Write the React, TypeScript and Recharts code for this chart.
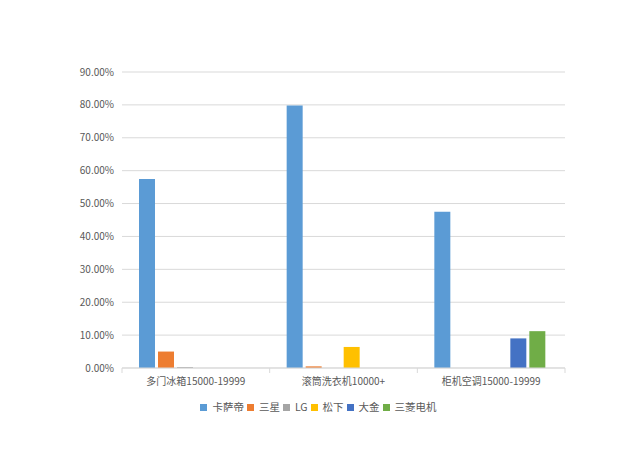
import React from 'react';
import { BarChart, Bar, XAxis, YAxis, CartesianGrid } from 'recharts';

const categories = ['多门冰箱15000-19999', '滚筒洗衣机10000+', '柜机空调15000-19999'];
const casarte = [57.5, 79.8, 47.5];
const samsung = [5.0, 0.5, 0];
const lg = [0.3, 0, 0];
const panasonic = [0, 6.4, 0];
const daikin = [0, 0, 9.0];
const mitsubishi = [0, 0, 11.2];
const yTicks = [0, 10, 20, 30, 40, 50, 60, 70, 80, 90];

const series = [
  { key: '卡萨帝', values: casarte, color: '#5B9BD5' },
  { key: '三星', values: samsung, color: '#ED7D31' },
  { key: 'LG', values: lg, color: '#A5A5A5' },
  { key: '松下', values: panasonic, color: '#FFC000' },
  { key: '大金', values: daikin, color: '#4472C4' },
  { key: '三菱电机', values: mitsubishi, color: '#70AD47' },
];

const data = categories.map((name, i) => {
  const row: Record<string, string | number> = { name };
  series.forEach((s) => {
    row[s.key] = s.values[i];
  });
  return row;
});

const FONT = '"Noto Sans CJK SC", "Noto Sans", sans-serif';
const TEXT = '#595959';
const AXIS = '#D9D9D9';

// ticks sit on category boundaries, like Excel
const CategoryTick = (props: any) => {
  const { x, y, payload, index, visibleTicksCount } = props;
  const band = 443 / categories.length;
  const top = y - 8;
  return (
    <g>
      <line x1={x - band / 2} y1={top} x2={x - band / 2} y2={top + 5} stroke={AXIS} />
      {index === visibleTicksCount - 1 && (
        <line x1={x + band / 2} y1={top} x2={x + band / 2} y2={top + 5} stroke={AXIS} />
      )}
      <text x={x} y={y + 9} textAnchor="middle" fontSize={10} fill={TEXT} fontFamily={FONT}>
        {payload.value}
      </text>
    </g>
  );
};

export default function App() {
  return (
    <div style={{ position: 'absolute', left: 0, top: 0, width: 640, height: 450, background: '#fff' }}>
      <BarChart
        width={640}
        height={450}
        data={data}
        margin={{ top: 72, right: 75, left: 62, bottom: 52 }}
        barCategoryGap={17}
        barGap={3}
      >
        <CartesianGrid vertical={false} stroke={AXIS} />
        <XAxis
          dataKey="name"
          axisLine={{ stroke: AXIS }}
          tickLine={false}
          tick={<CategoryTick />}
          interval={0}
          height={30}
        />
        <YAxis
          domain={[0, 90]}
          ticks={yTicks}
          interval={0}
          axisLine={false}
          tickLine={false}
          width={60}
          tickFormatter={(v: number) => `${v.toFixed(2)}%`}
          tick={{ fontSize: 10, fill: TEXT, fontFamily: FONT }}
        />
        {series.map((s) => (
          <Bar key={s.key} dataKey={s.key} fill={s.color} isAnimationActive={false} />
        ))}
      </BarChart>

      {/* legend, kept in series order */}
      <div
        style={{
          position: 'absolute',
          left: 0,
          width: 640,
          top: 399,
          display: 'flex',
          justifyContent: 'center',
          fontFamily: FONT,
          fontSize: 10.5,
          color: TEXT,
          lineHeight: '16px',
        }}
      >
        {series.map((s) => (
          <div key={s.key} style={{ display: 'flex', alignItems: 'center', marginRight: 3 }}>
            <span style={{ width: 7, height: 7, background: s.color, marginRight: 5 }} />
            <span>{s.key}</span>
          </div>
        ))}
      </div>
    </div>
  );
}
